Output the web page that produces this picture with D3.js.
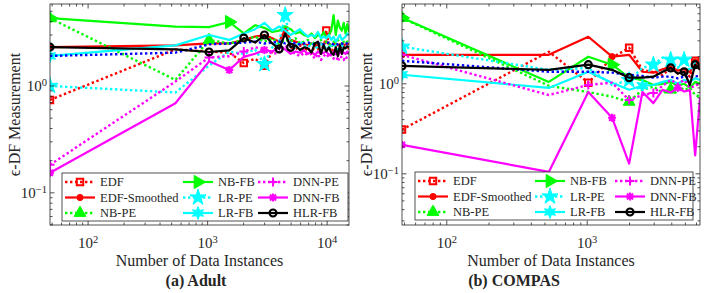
<!DOCTYPE html>
<html>
<head>
<meta charset="utf-8">
<script src="https://cdn.jsdelivr.net/npm/d3@7"></script>
<style>
body { margin: 0; background: #fff; }
text { font-family: "Liberation Serif", "Times New Roman", serif; fill: #262626; }
</style>
</head>
<body>
<div id="chart"></div>
<script>
// DATA

var adultN = [48, 538, 1028, 1518, 2008, 2498, 2988, 3478, 3968, 4458, 4948, 5438, 5928, 6418, 6908, 7398,
  7888, 8378, 8868, 9358, 9848, 10338, 10828, 11318, 11808, 12298, 12788, 13278, 13768, 14258, 14748, 15238];
var compasN = [48, 533, 1018, 1503, 1988, 2473, 2958, 3443, 3928, 4413, 4898, 5383, 5868, 6353];

var seriesNames = ["EDF", "EDF-Smoothed", "NB-PE", "NB-FB", "LR-PE", "LR-FB", "DNN-PE", "DNN-FB", "HLR-PE", "HLR-FB"];

var adultEDF    = [0.74, 2.2, 2.1, 2.05, 1.64, 1.8, 1.55, 2.1, 2.4, 3.1, 2.3, 2.2, 2.4, 2.1, 2.3, 2.0, 2.4, 2.2, 2.5, 2.2, 3.3, 2.4, 2.1, 2.2, 2.3, 1.9, 2.5, 2.1, 2.3, 2.2, 2.4, 2.2];
var adultEDFsm  = [2.31, 2.4, 2.5, 2.5, 2.7, 2.9, 3.0, 2.8, 2.6, 3.4, 2.7, 2.6, 2.5, 2.45, 2.4, 2.5, 2.45, 2.4, 2.5, 2.45, 2.6, 2.5, 2.4, 2.45, 2.5, 2.4, 2.45, 2.5, 2.4, 2.45, 2.5, 2.45];
var adultNBPE   = [4.3, 1.14, 2.69, 2.5, 2.7, 2.9, 2.6, 2.8, 2.5, 2.7, 2.6, 2.8, 2.5, 2.6, 2.7, 2.4, 2.6, 2.5, 2.7, 2.4, 2.6, 2.5, 2.3, 2.6, 2.4, 2.7, 2.5, 2.4, 2.6, 2.5, 2.6, 2.5];
var adultNBFB   = [4.32, 3.6, 3.55, 3.97, 3.1, 3.7, 3.5, 3.2, 3.3, 3.6, 3.4, 3.1, 3.2, 3.0, 2.9, 3.1, 2.8, 3.0, 2.9, 3.2, 2.8, 3.0, 3.3, 4.6, 3.0, 4.1, 3.5, 3.3, 3.9, 3.1, 3.8, 3.2];
var adultLRPE   = [1.0, 0.87, 1.55, 2.1, 2.0, 2.2, 1.6, 2.3, 2.6, 4.6, 2.5, 2.3, 2.6, 2.4, 2.3, 2.5, 2.4, 2.2, 2.5, 2.3, 2.4, 2.2, 2.5, 2.3, 2.4, 2.2, 2.3, 2.5, 2.2, 2.4, 2.3, 2.2];
var adultLRFB   = [1.91, 2.4, 3.0, 2.7, 3.1, 3.4, 3.9, 3.3, 3.6, 3.3, 3.0, 3.2, 3.4, 3.1, 2.9, 3.0, 2.9, 3.2, 2.8, 2.9, 2.8, 3.0, 2.7, 2.9, 2.6, 2.8, 3.0, 2.7, 2.8, 2.9, 3.1, 3.0];
var adultDNNPE  = [0.183, 1.1, 1.85, 1.9, 2.1, 2.3, 2.2, 2.0, 2.05, 2.4, 2.1, 2.0, 1.9, 2.05, 1.95, 2.0, 1.8, 2.0, 1.75, 1.9, 2.0, 1.85, 1.95, 1.8, 2.0, 1.7, 1.9, 1.85, 1.75, 1.9, 1.8, 1.85];
var adultDNNFB  = [0.154, 0.69, 1.7, 1.41, 1.87, 2.0, 2.17, 2.1, 2.3, 2.2, 2.0, 2.1, 2.05, 2.15, 2.0, 2.1, 1.95, 2.1, 2.0, 2.05, 2.1, 1.95, 2.0, 2.1, 2.05, 1.95, 2.1, 2.0, 2.05, 2.0, 2.1, 2.0];
var adultHLRPE  = [1.91, 2.05, 2.45, 2.5, 2.55, 2.6, 2.5, 2.55, 2.6, 2.5, 2.55, 2.5, 2.45, 2.5, 2.55, 2.5, 2.45, 2.5, 2.5, 2.45, 2.5, 2.55, 2.5, 2.45, 2.5, 2.45, 2.5, 2.5, 2.45, 2.5, 2.5, 2.45];
var adultHLRFB  = [2.31, 2.2, 2.08, 2.15, 2.81, 2.55, 3.0, 2.5, 2.22, 3.1, 2.3, 2.4, 2.17, 2.3, 2.25, 2.05, 2.5, 2.6, 2.0, 2.4, 2.1, 2.3, 2.05, 1.95, 2.3, 1.9, 2.4, 2.0, 2.3, 2.25, 2.35, 2.3];

var compasEDF   = [0.31, 2.27, 1.03, 1.95, 2.51, 1.43, 1.35, 1.25, 1.5, 1.3, 1.4, 1.2, 1.8, 1.5];
var compasEDFsm = [2.1, 2.1, 3.33, 2.0, 2.1, 1.36, 1.33, 1.45, 1.55, 1.4, 1.45, 1.35, 1.75, 1.45];
var compasNBPE  = [5.4, 0.95, 0.81, 0.72, 0.63, 0.86, 0.93, 0.8, 0.86, 0.95, 0.85, 0.9, 0.75, 0.72];
var compasNBFB  = [5.4, 1.05, 2.0, 1.63, 1.17, 1.1, 0.97, 1.0, 1.05, 0.95, 1.0, 0.9, 1.05, 1.0];
var compasLRPE  = [2.58, 1.43, 1.5, 0.97, 1.1, 1.5, 1.63, 1.95, 1.85, 1.5, 1.85, 1.4, 1.7, 1.5];
var compasLRFB  = [1.26, 0.9, 1.36, 1.03, 0.86, 0.95, 0.97, 1.05, 1.1, 1.0, 1.1, 1.05, 1.15, 1.1];
var compasDNNPE = [2.1, 0.75, 0.97, 1.03, 0.66, 0.75, 0.79, 0.95, 1.1, 1.0, 1.1, 0.9, 0.95, 1.0];
var compasDNNFB = [0.21, 0.105, 0.81, 0.42, 0.13, 0.81, 0.61, 0.86, 0.8, 0.9, 0.82, 0.85, 0.16, 0.7];
var compasHLRPE = [1.8, 1.36, 1.36, 1.33, 1.26, 1.22, 1.17, 1.2, 1.2, 1.15, 1.2, 1.18, 1.22, 1.2];
var compasHLRFB = [1.58, 1.43, 1.63, 1.43, 1.17, 1.17, 1.2, 1.36, 1.5, 1.3, 1.36, 0.97, 1.63, 1.43];

// STYLES (same order as seriesNames)

var styles = [
  {color: "#ff0000", dash: true,  marker: "square",   legend: true},
  {color: "#ff0000", dash: false, marker: "dot",      legend: true},
  {color: "#00ff00", dash: true,  marker: "triangle", legend: true},
  {color: "#00ff00", dash: false, marker: "tright",   legend: true},
  {color: "#00ffff", dash: true,  marker: "star5",    legend: true},
  {color: "#00ffff", dash: false, marker: "star6",    legend: true},
  {color: "#ff00ff", dash: true,  marker: "plus",     legend: true},
  {color: "#ff00ff", dash: false, marker: "aster",    legend: true},
  {color: "#0000ff", dash: true,  marker: null,       legend: false},
  {color: "#000000", dash: false, marker: "ring",     legend: true}
];

// which points carry a marker, per series
var adultMarks  = [[0, 4, 6, 20], [0, 9], [0, 2], [0, 3], [0, 6, 9], [0], [0, 2, 4], [0, 3, 6], [], [0, 2, 4, 6, 8, 10]];
var compasMarks = [[0, 2, 4, 12], [0, 3, 12], [0, 4, 8], [0, 3], [0, 4, 6, 8, 10], [0, 5], [0, 2, 4, 6], [0, 3, 9], [], [0, 2, 4, 8, 10, 12]];

var panels = [
  {x0: 50, x1: 349, y0: 4, y1: 225, xDom: [48, 15238], yDom: [0.05, 5.85], xs: adultN,
   vals: [adultEDF, adultEDFsm, adultNBPE, adultNBFB, adultLRPE, adultLRFB, adultDNNPE, adultDNNFB, adultHLRPE, adultHLRFB],
   marks: adultMarks, title: "(a) Adult", titleX: 196, yLabelX: 14,
   legend: {x: 62, y: 173, w: 286, h: 48, cols: [3, 121, 196]}},
  {x0: 402, x1: 700, y0: 4, y1: 225, xDom: [48, 6353], yDom: [0.027, 7.7], xs: compasN,
   vals: [compasEDF, compasEDFsm, compasNBPE, compasNBFB, compasLRPE, compasLRFB, compasDNNPE, compasDNNFB, compasHLRPE, compasHLRFB],
   marks: compasMarks, title: "(b) COMPAS", titleX: 514, yLabelX: 366,
   legend: {x: 415, y: 172, w: 278, h: 48, cols: [3, 120, 200]}}
];

var svg = d3.select("#chart").append("svg")
  .attr("width", 706).attr("height", 293);

var defs = svg.append("defs");

// MARKERS

function markerPath(type) {
  if (type == "square") return d3.symbol(d3.symbolSquare, 42)();
  if (type == "dot") return d3.symbol(d3.symbolCircle, 30)();
  if (type == "ring") return d3.symbol(d3.symbolCircle, 38)();
  if (type == "triangle") return d3.symbol(d3.symbolTriangle, 60)();
  if (type == "tright") return d3.symbol(d3.symbolTriangle, 75)();
  if (type == "star5") return d3.symbol(d3.symbolStar, 80)();
  if (type == "star6") {
    var pts = [];
    for (var i = 0; i < 12; i++) {
      var r = i % 2 ? 3 : 6.5, a = Math.PI * i / 6 - Math.PI / 2;
      pts.push([r * Math.cos(a), r * Math.sin(a)]);
    }
    return "M" + pts.join("L") + "Z";
  }
  if (type == "plus") return "M-4.5,0H4.5M0,-4.5V4.5";
  if (type == "aster") return "M-4,0H4M0,-4V4M-3,-3L3,3M-3,3L3,-3";
  return null;
}

function drawMarker(g, type, color, x, y) {
  var p = g.append("path")
    .attr("d", markerPath(type))
    .attr("transform", "translate(" + x + "," + y + ")" + (type == "tright" ? "rotate(90)" : ""));
  if (type == "square") p.attr("fill", "none").attr("stroke", color).attr("stroke-width", 2);
  else if (type == "ring") p.attr("fill", "none").attr("stroke", color).attr("stroke-width", 2.2);
  else if (type == "plus" || type == "aster") p.attr("fill", "none").attr("stroke", color).attr("stroke-width", 2);
  else p.attr("fill", color).attr("stroke", color).attr("stroke-width", 1);
}

function styleLine(sel, st) {
  sel.attr("fill", "none")
    .attr("stroke", st.color)
    .attr("stroke-width", st.dash ? 2.4 : 2.2)
    .attr("stroke-linejoin", "round")
    .attr("stroke-dasharray", st.dash ? "2.4,2.6" : null);
}

function powLabel(sel, exp) {
  sel.append("tspan").text("10");
  sel.append("tspan").attr("dy", "-0.45em").attr("font-size", "10.5px").text(exp);
}

panels.forEach(function(p, pi) {
  var x = d3.scaleLog().domain(p.xDom).range([p.x0, p.x1]);
  var y = d3.scaleLog().domain(p.yDom).range([p.y1, p.y0]);
  var g = svg.append("g");

  defs.append("clipPath").attr("id", "clip" + pi)
    .append("rect").attr("x", p.x0).attr("y", p.y0).attr("width", p.x1 - p.x0).attr("height", p.y1 - p.y0);

  // LINES
  var plot = g.append("g").attr("clip-path", "url(#clip" + pi + ")");
  var line = d3.line().x(function(d) { return x(d[0]); }).y(function(d) { return y(d[1]); });

  p.vals.forEach(function(v, si) {
    var st = styles[si];
    var pts = v.map(function(d, i) { return [p.xs[i], d]; });
    plot.append("path").datum(pts).attr("d", line).call(styleLine, st);
    if (st.marker) p.marks[si].forEach(function(i) {
      drawMarker(plot, st.marker, st.color, x(p.xs[i]), y(v[i]));
    });
  });

  // AXES (box with inward ticks on all sides)
  var ax = g.append("g").attr("stroke", "#262626").attr("stroke-width", 0.8);
  ax.append("rect").attr("x", p.x0).attr("y", p.y0).attr("width", p.x1 - p.x0).attr("height", p.y1 - p.y0)
    .attr("fill", "none");

  function isMajor(t) { return Math.abs(Math.log10(t) - Math.round(Math.log10(t))) < 1e-9; }

  x.ticks().forEach(function(t) {
    var len = isMajor(t) ? 4.5 : 2.5, xx = x(t);
    ax.append("line").attr("x1", xx).attr("x2", xx).attr("y1", p.y1).attr("y2", p.y1 - len);
    ax.append("line").attr("x1", xx).attr("x2", xx).attr("y1", p.y0).attr("y2", p.y0 + len);
    if (isMajor(t)) {
      g.append("text").attr("x", xx).attr("y", 248).attr("text-anchor", "middle")
        .attr("font-size", "15px").call(powLabel, Math.round(Math.log10(t)));
    }
  });

  y.ticks().forEach(function(t) {
    var len = isMajor(t) ? 4.5 : 2.5, yy = y(t);
    ax.append("line").attr("y1", yy).attr("y2", yy).attr("x1", p.x0).attr("x2", p.x0 + len);
    ax.append("line").attr("y1", yy).attr("y2", yy).attr("x1", p.x1).attr("x2", p.x1 - len);
    if (isMajor(t)) {
      g.append("text").attr("x", p.x0 - 3).attr("y", yy + 5).attr("text-anchor", "end")
        .attr("font-size", "15px").call(powLabel, String(Math.round(Math.log10(t))).replace("-", "\u2212"));
    }
  });

  // LABELS
  g.append("text").attr("x", (p.x0 + p.x1) / 2).attr("y", 266).attr("text-anchor", "middle")
    .attr("font-size", "16px").text("Number of Data Instances");
  g.append("text").attr("transform", "translate(" + p.yLabelX + "," + ((p.y0 + p.y1) / 2) + ")rotate(-90)")
    .attr("text-anchor", "middle").attr("dy", "0.35em").attr("font-size", "16px").text("\u03f5-DF Measurement");
  g.append("text").attr("x", p.titleX).attr("y", 286).attr("text-anchor", "middle")
    .attr("font-size", "16px").attr("font-weight", "bold").text(p.title);

  // LEGEND
  var L = p.legend;
  var lg = g.append("g");
  lg.append("rect").attr("x", L.x).attr("y", L.y).attr("width", L.w).attr("height", L.h)
    .attr("fill", "#fff").attr("stroke", "#262626").attr("stroke-width", 0.8);
  var k = 0;
  styles.forEach(function(st, si) {
    if (!st.legend) return;
    var col = Math.floor(k / 3), row = k % 3;
    k++;
    var lx = L.x + L.cols[col], ly = L.y + 9 + row * 15.5;
    lg.append("line").attr("x1", lx).attr("x2", lx + 30).attr("y1", ly).attr("y2", ly).call(styleLine, st);
    drawMarker(lg, st.marker, st.color, lx + 15, ly);
    lg.append("text").attr("x", lx + 35).attr("y", ly).attr("dy", "0.35em")
      .attr("font-size", "12.5px").text(seriesNames[si]);
  });
});
</script>
</body>
</html>
